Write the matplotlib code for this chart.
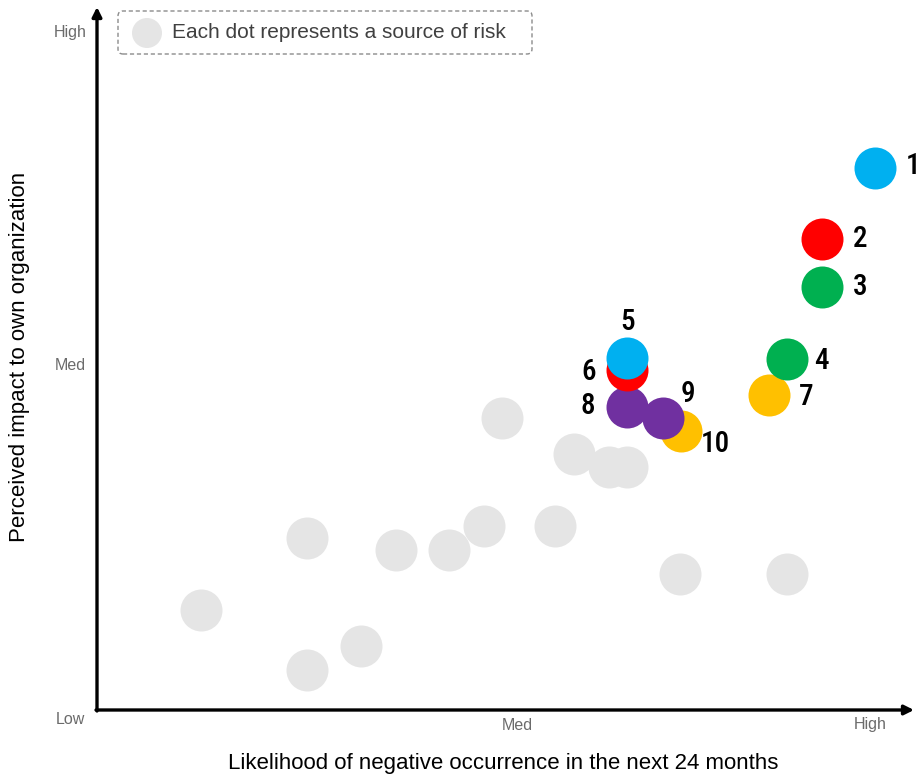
import matplotlib
matplotlib.use("Agg")
import matplotlib.pyplot as plt
from matplotlib.patches import FancyBboxPatch, Circle
from matplotlib.transforms import IdentityTransform

# ---------------- data (0 = Low, 100 = High on both axes) ----------------
gray_x = [13.4, 27.2, 27.2, 34.1, 38.7, 45.5, 50.1, 52.4, 59.3, 61.7, 66.2, 68.5, 75.4, 89.2]
gray_y = [14.7, 25.3, 5.9, 9.4, 23.6, 23.6, 27.1, 43.0, 27.1, 37.8, 35.9, 35.9, 20.1, 20.1]

risk_labels = ["1", "2", "3", "4", "5", "6", "7", "8", "9", "10"]
risk_x = [100.7, 93.8, 93.8, 89.3, 68.6, 68.6, 86.9, 68.6, 73.2, 75.5]
risk_y = [80.0, 69.5, 62.4, 51.8, 51.9, 50.1, 46.5, 44.7, 43.1, 41.1]
risk_colors = ["#00B0F0", "#FF0000", "#00B050", "#00B050", "#00B0F0",
               "#FF0000", "#FFC000", "#7030A0", "#7030A0", "#FFC000"]
# label offsets in pixels (dx, dy)
label_offsets = [(38, 2), (38, 0), (38, 0), (34, -2), (0, 36), (-39, -2),
                 (37, -2), (-39, 1), (25, 24), (35, -13)]

x_ticks = ["Med", "High"]
y_ticks = ["High", "Med", "Low"]
x_title = "Likelihood of negative occurrence in the next 24 months"
y_title = "Perceived impact to own organization"
legend_text = "Each dot represents a source of risk"

# ---------------- figure ----------------
W, H = 922, 777
fig = plt.figure(figsize=(W / 100, H / 100), dpi=100)
ax = fig.add_axes([0, 0, 1, 1])
X0, XS = 97, 7.73
Y0, YS = 710, 6.78
ax.set_xlim((0 - X0) / XS, (W - X0) / XS)
ax.set_ylim((Y0 - H) / YS, Y0 / YS)
ax.axis("off")


def P(px, py):
    return ((px - X0) / XS, (Y0 - py) / YS)


# axes arrows
ax.annotate("", xy=P(914, 710), xytext=P(96, 710),
            arrowprops=dict(arrowstyle="-|>", lw=2.4, color="black",
                            mutation_scale=14, shrinkA=0, shrinkB=0))
ax.annotate("", xy=P(97, 7), xytext=P(97, 711),
            arrowprops=dict(arrowstyle="-|>", lw=2.4, color="black",
                            mutation_scale=14, shrinkA=0, shrinkB=0))

S = (21 * 72 / 100 * 2) ** 2  # marker area for ~21px radius

ax.scatter(gray_x, gray_y, s=S, color="#E5E5E5", linewidths=0, zorder=2)

num_family = ["Roboto Condensed", "Roboto", "DejaVu Sans"]
for i in range(len(risk_x) - 1, -1, -1):
    ax.scatter([risk_x[i]], [risk_y[i]], s=S, color=risk_colors[i],
               linewidths=0, zorder=10 + (len(risk_x) - i))
    dx, dy = label_offsets[i]
    ax.annotate(risk_labels[i], (risk_x[i], risk_y[i]), xytext=(dx, dy),
                textcoords="offset pixels", ha="center", va="center",
                fontsize=21, fontweight="medium",
                family=num_family, color="black", zorder=40)

tick_kw = dict(fontsize=11.5, color="#6B6B6B", family=["Liberation Sans"])
ax.text(*P(70, 33), y_ticks[0], ha="center", va="center", **tick_kw)
ax.text(*P(70, 366), y_ticks[1], ha="center", va="center", **tick_kw)
ax.text(*P(70, 719), y_ticks[2], ha="center", va="center", **tick_kw)
ax.text(*P(517, 725), x_ticks[0], ha="center", va="center", **tick_kw)
ax.text(*P(870, 725), x_ticks[1], ha="center", va="center", **tick_kw)

title_kw = dict(fontsize=16, color="black", family=["Liberation Sans"])
ax.text(*P(503, 764), x_title, ha="center", va="center", **title_kw)
ax.text(*P(20, 357), y_title, ha="center", va="center", rotation=90, **title_kw)

# legend box
box = FancyBboxPatch((118, H - 54), 414, 43, boxstyle="round,pad=0,rounding_size=5",
                     transform=IdentityTransform(), facecolor="white",
                     edgecolor="#8C8C8C", lw=1.0, linestyle=(0, (3, 2)), zorder=5)
ax.add_patch(box)
ax.add_patch(Circle((147, H - 33), 15, transform=IdentityTransform(),
                    facecolor="#E5E5E5", edgecolor="none", zorder=6))
ax.text(172, H - 33, legend_text, transform=IdentityTransform(), ha="left", va="center",
        fontsize=15, color="#404040", family=["Liberation Sans"], zorder=6)

fig.savefig("out.png", dpi=100)
